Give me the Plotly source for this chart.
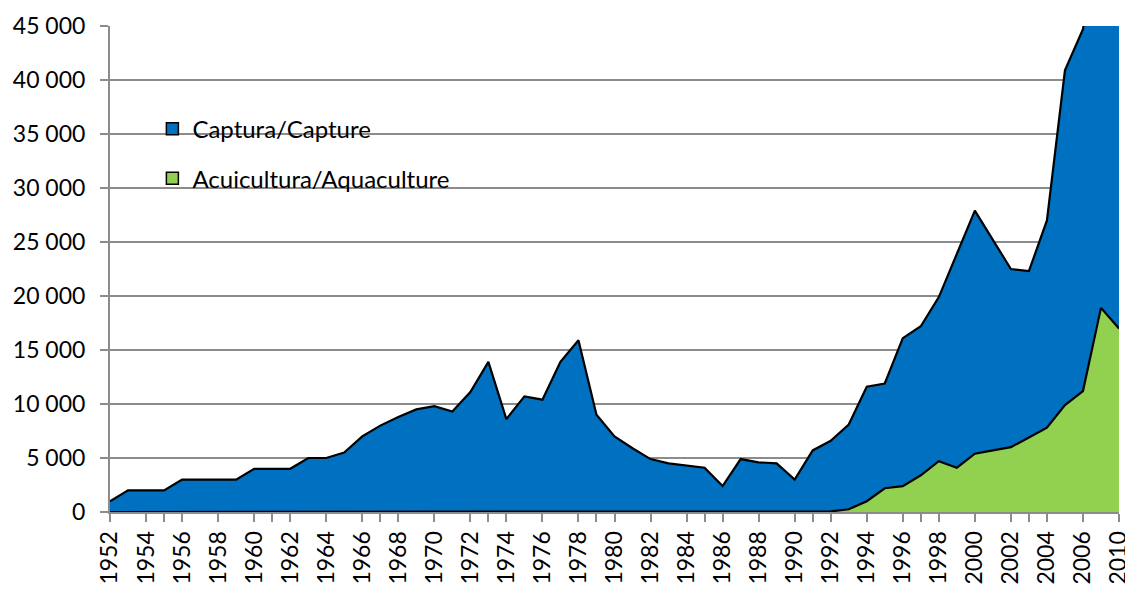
import plotly.graph_objects as go

years = [str(y) for y in range(1952, 2007)] + ["2008", "2010"]

aquaculture = [0] * 40 + [50, 250, 1000, 2200, 2400, 3400, 4700, 4100, 5400,
                          5700, 6000, 6900, 7800, 9900, 11200, 18900, 17000]

capture = [1000, 2000, 2000, 2000, 3000, 3000, 3000, 3000, 4000, 4000,
           4000, 5000, 5000, 5500, 7000, 8000, 8800, 9500, 9800, 9300,
           11100, 13900, 8600, 10700, 10400, 13900, 15900, 9000, 7000, 5900,
           4900, 4500, 4300, 4100, 2400, 4900, 4600, 4500, 3000, 5700,
           6550, 7850, 10600, 9700, 13700, 13800, 15200, 19800, 22500, 19500,
           16500, 15400, 19200, 31000, 33500, 36100, 43000]

tick_years = years[::2]
y_ticks = list(range(0, 45001, 5000))

BLUE = "#0070C0"
GREEN = "#92D050"
GRAY = "#8C8C8C"
FONT = "Lato"

fig = go.Figure()

fig.add_trace(go.Scatter(
    x=years, y=aquaculture, stackgroup="s", mode="lines",
    line=dict(color="black", width=2.2), fillcolor=GREEN,
    name="Acuicultura/Aquaculture", showlegend=False))
fig.add_trace(go.Scatter(
    x=years, y=capture, stackgroup="s", mode="lines",
    line=dict(color="black", width=2.2), fillcolor=BLUE,
    name="Captura/Capture", showlegend=False))

# legend entries
fig.add_trace(go.Bar(x=[None], y=[None], name="Captura/Capture",
                     marker=dict(color=BLUE, line=dict(color="black", width=1.5)),
                     legend="legend"))
fig.add_trace(go.Bar(x=[None], y=[None], name="Acuicultura/Aquaculture",
                     marker=dict(color=GREEN, line=dict(color="black", width=1.5)),
                     legend="legend2"))

leg_common = dict(xref="paper", yref="paper", xanchor="left", yanchor="middle",
                  bgcolor="rgba(0,0,0,0)", borderwidth=0,
                  font=dict(family=FONT, size=24, color="black"))

fig.update_layout(
    width=1125, height=584,
    margin=dict(l=102, r=14, t=18, b=80),
    paper_bgcolor="white", plot_bgcolor="white",
    separators=", ",
    font=dict(family=FONT, size=23, color="black"),
    legend=dict(x=0.042, y=0.788, **leg_common),
    legend2=dict(x=0.042, y=0.686, **leg_common),
    xaxis=dict(
        type="category", categoryorder="array", categoryarray=years,
        range=[0, len(years) - 1],
        tickmode="array", tickvals=tick_years, ticktext=tick_years,
        tickangle=-90, showgrid=False,
        showline=True, linecolor=GRAY, linewidth=2,
        ticks="outside", ticklen=8, tickcolor=GRAY, tickwidth=1.5,
        minor=dict(ticks="outside", ticklen=8, tickcolor=GRAY, tickwidth=1.5,
                   showgrid=False),
        tickfont=dict(family=FONT, size=23),
        automargin=False, fixedrange=True,
    ),
    yaxis=dict(
        range=[0, 45000], tickmode="array", tickvals=y_ticks,
        tickformat=",d",
        showgrid=True, gridcolor=GRAY, gridwidth=1.5,
        showline=True, linecolor=GRAY, linewidth=2,
        ticks="outside", ticklen=8, tickcolor=GRAY, tickwidth=1.5,
        tickfont=dict(family=FONT, size=23),
        ticklabelstandoff=10,
        zeroline=False, automargin=False, fixedrange=True,
    ),
    showlegend=True,
)

fig.write_html("out.html")
